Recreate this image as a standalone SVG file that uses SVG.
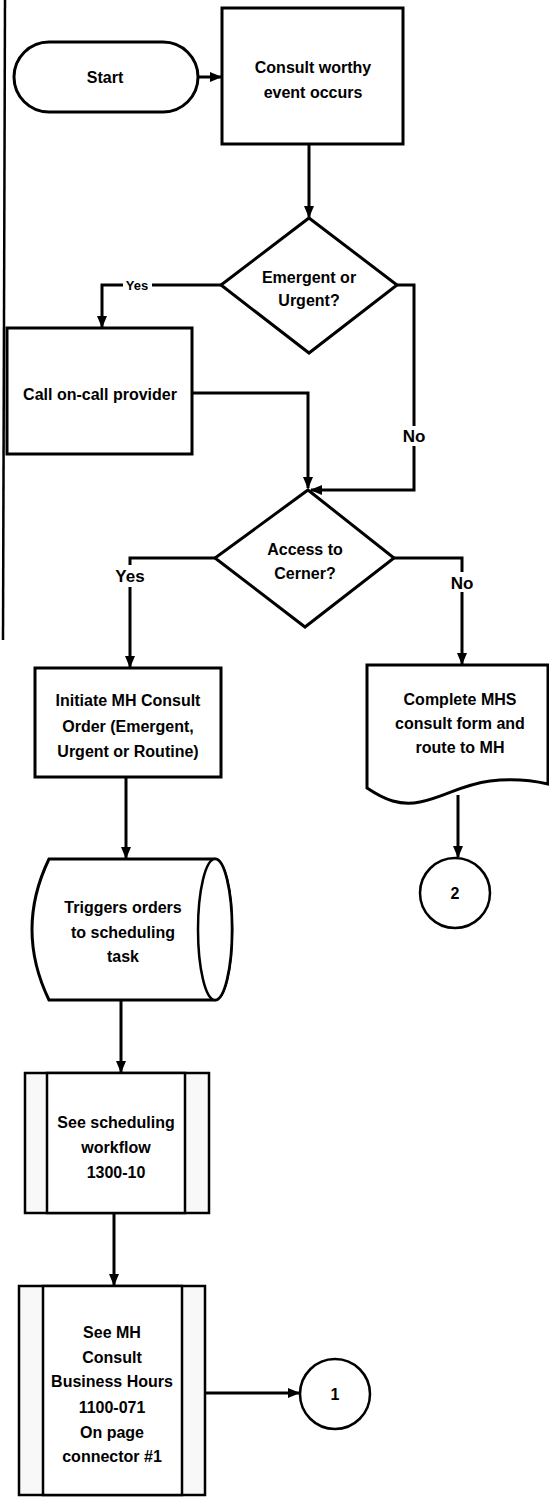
<svg xmlns="http://www.w3.org/2000/svg" width="549" height="1497" viewBox="0 0 549 1497">
<defs>
<marker id="arr" markerUnits="userSpaceOnUse" markerWidth="12" markerHeight="12" viewBox="0 0 12 12" refX="11" refY="6" orient="auto">
<path d="M0,1 L12,6 L0,11 Z" fill="#000"/>
</marker>
<style>
.s{fill:#fff;stroke:#000;stroke-width:3;stroke-linejoin:miter}
.p{fill:#fff;stroke:#000;stroke-width:2.5}
.side{fill:#f8f8f8;stroke:#000;stroke-width:2.5}
.c{fill:none;stroke:#000;stroke-width:3;marker-end:url(#arr)}
text{font-family:"Liberation Sans",Arial,sans-serif;font-weight:bold;font-size:16px;fill:#000;text-anchor:middle}
.lab{font-size:17px}
.sm{font-size:13px}
.bg{fill:#fff;stroke:none}
</style>
</defs>
<rect x="0" y="0" width="549" height="1497" fill="#fff"/>
<line x1="5" y1="0" x2="3" y2="640" stroke="#000" stroke-width="2.5"/>

<g id="connectors">
<line class="c" x1="198" y1="77" x2="221" y2="77"/>
<line class="c" x1="309" y1="144" x2="309" y2="217"/>
<polyline class="c" points="221,285 102,285 102,327"/>
<polyline class="c" points="397,285 414,285 414,490 311,490"/>
<polyline class="c" points="192,393 308,393 308,488"/>
<polyline class="c" points="215,558 130,558 130,667"/>
<polyline class="c" points="394,558 462,558 462,664"/>
<line class="c" x1="458" y1="795" x2="458" y2="857"/>
<line class="c" x1="126" y1="777" x2="126" y2="858"/>
<line class="c" x1="121" y1="1000" x2="121" y2="1072"/>
<line class="c" x1="114" y1="1213" x2="114" y2="1285"/>
<line class="c" x1="205" y1="1393" x2="299" y2="1393"/>
<rect class="bg" x="123" y="278" width="29" height="14"/>
<text class="sm" x="137" y="290">Yes</text>
<rect class="bg" x="402" y="426" width="26" height="20"/>
<text class="lab" x="414" y="442">No</text>
<rect class="bg" x="113" y="565" width="35" height="22"/>
<text class="lab" x="130" y="582">Yes</text>
<rect class="bg" x="449" y="572" width="27" height="20"/>
<text class="lab" x="462" y="589">No</text>
</g>

<g id="start">
<rect class="s" x="14" y="42" width="184" height="70" rx="35" ry="35"/>
<text x="105" y="83">Start</text>
</g>

<g id="consult-event">
<rect class="s" x="222" y="8" width="181" height="136"/>
<text x="313" y="73">Consult worthy</text>
<text x="313" y="98">event occurs</text>
</g>

<g id="emergent-decision">
<polygon class="s" points="309,218 397,285 309,353 221,285"/>
<text x="309" y="283">Emergent or</text>
<text x="309" y="306">Urgent?</text>
</g>

<g id="call-provider">
<rect class="s" x="7" y="328" width="185" height="126"/>
<text x="100" y="400">Call on-call provider</text>
</g>

<g id="cerner-decision">
<polygon class="s" points="308,490 394,558 305,627 215,558"/>
<text x="305" y="555">Access to</text>
<text x="305" y="579">Cerner?</text>
</g>

<g id="initiate-order">
<rect class="s" x="35" y="668" width="186" height="109"/>
<text x="128" y="706">Initiate MH Consult</text>
<text x="128" y="732">Order (Emergent,</text>
<text x="128" y="757">Urgent or Routine)</text>
</g>

<g id="mhs-form">
<path class="s" d="M367,665 H548 V784 C535,781 515,778 490,781 C460,785 445,797 420,802 C400,806 385,800 367,788 Z"/>
<text x="460" y="705">Complete MHS</text>
<text x="460" y="729">consult form and</text>
<text x="460" y="753">route to MH</text>
</g>

<g id="connector-2">
<circle class="p" cx="455" cy="893" r="35"/>
<text x="455" y="899">2</text>
</g>

<g id="triggers-orders">
<path class="s" d="M49,859 H215 A17,70.5 0 0 1 215,1000 H49 Q15,929.5 49,859 Z"/>
<ellipse class="p" cx="215" cy="929.5" rx="17" ry="70.5"/>
<text x="123" y="913">Triggers orders</text>
<text x="123" y="938">to scheduling</text>
<text x="123" y="962">task</text>
</g>

<g id="scheduling-workflow">
<rect class="side" x="25" y="1073" width="184" height="140"/>
<rect class="p" x="47" y="1073" width="138" height="140"/>
<text x="116" y="1128">See scheduling</text>
<text x="116" y="1153">workflow</text>
<text x="116" y="1178">1300-10</text>
</g>

<g id="business-hours">
<rect class="side" x="19" y="1286" width="186" height="209"/>
<rect class="p" x="43" y="1286" width="139" height="209"/>
<text x="112" y="1338">See MH</text>
<text x="112" y="1363">Consult</text>
<text x="112" y="1387">Business Hours</text>
<text x="112" y="1413">1100-071</text>
<text x="112" y="1438">On page</text>
<text x="112" y="1462">connector #1</text>
</g>

<g id="connector-1">
<circle class="p" cx="335" cy="1394" r="35"/>
<text x="335" y="1400">1</text>
</g>
</svg>
